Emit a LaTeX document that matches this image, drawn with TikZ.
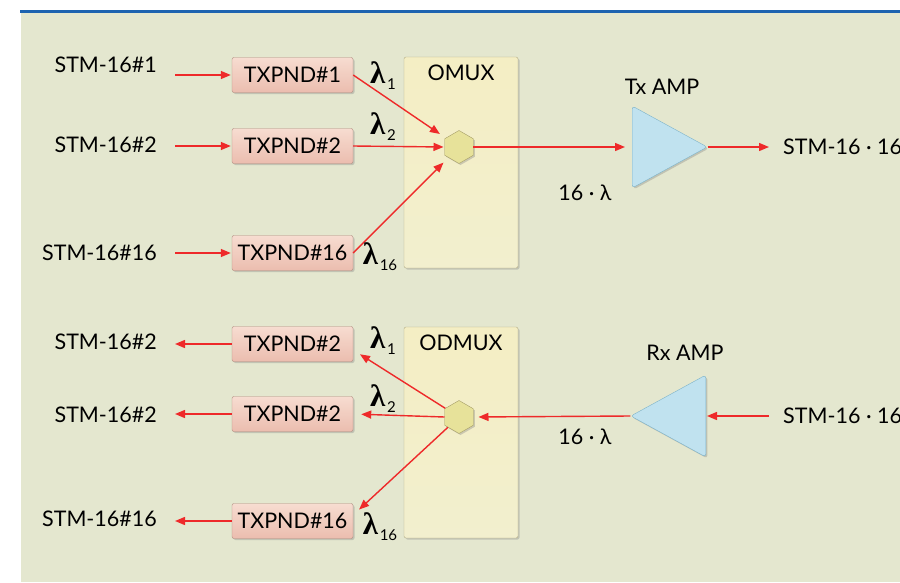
\documentclass[tikz,border=0pt]{standalone}
\usepackage{fontspec}
\setmainfont{Lato}
\newfontfamily\lamfont{Liberation Serif}
\usetikzlibrary{shapes.geometric, arrows.meta, positioning, shadows, calc}

\definecolor{bgcol}{HTML}{E4E7CF}
\definecolor{topblue}{HTML}{1D63B0}
\definecolor{sigred}{HTML}{EE2A2A}
\definecolor{pinktop}{HTML}{F7DCD0}
\definecolor{pinkbot}{HTML}{EBBDAF}
\definecolor{pinkedge}{HTML}{B08A7E}
\definecolor{muxtop}{HTML}{F4EEC4}
\definecolor{muxbot}{HTML}{F2EFCE}
\definecolor{muxedge}{HTML}{B3AC86}
\definecolor{hexfill}{HTML}{E7E29A}
\definecolor{hexedge}{HTML}{A59D66}
\definecolor{ampfill}{HTML}{C0E2EF}
\definecolor{ampedge}{HTML}{7DB3C9}

\newcommand{\lam}[1]{{\lamfont\bfseries\fontsize{31}{31}\selectfont λ}\,\raisebox{-6pt}{\fontsize{15}{15}\selectfont #1}}

\tikzset{
  txt/.style={font=\fontsize{21.5}{24}\selectfont, inner sep=0pt},
  shade/.style={drop shadow={shadow xshift=1.5pt, shadow yshift=-1.5pt, opacity=0.35}},
  txbox/.style={txt, draw=pinkedge, rounded corners=2pt, top color=pinktop, bottom color=pinkbot,
    minimum width=121pt, minimum height=35pt, shade},
  muxbox/.style={draw=muxedge, rounded corners=2pt, top color=muxtop, bottom color=muxbot,
    minimum width=114pt, minimum height=211pt, shade},
  hexnode/.style={regular polygon, regular polygon sides=6, shape border rotate=30,
    draw=hexedge, fill=hexfill, minimum size=33pt, inner sep=0pt, shade},
  amp/.style={isosceles triangle, isosceles triangle stretches, draw=ampedge, fill=ampfill,
    rounded corners=3pt, minimum width=82pt, minimum height=75pt, inner sep=0pt, shade},
  sig/.style={draw=sigred, line width=1.4pt, -{Triangle[length=10pt,width=8pt]}, sigred},
}

\begin{document}
\begin{tikzpicture}[x=1pt, y=-1pt]

\useasboundingbox (0,0) rectangle (900,582);

% Background and top rule
\fill[bgcol] (21,13) rectangle (900,582);
\fill[topblue] (20,10) rectangle (900,13);

% Multiplexer boxes
\node[muxbox] (omux) at (461,162.5) {};
\node[muxbox] (odmux) at (461,432.5) {};
\node[txt, below=8pt of omux.north] (omuxlbl) {OMUX};
\node[txt, below=8pt of odmux.north] (odmuxlbl) {ODMUX};
\node[hexnode] (hex) at (459,147) {};
\node[hexnode] (hexd) at (459,417) {};

% Transmit side
\foreach \n/\y/\ty in {1/75/65, 2/146/145, 16/253/253} {
    \node[txbox] (tx\n) at (292.5,\y) {TXPND\#\n};
    \node[txt, anchor=east] (stm\n) at (157,\ty) {STM-16\#\n};
    \draw[sig, shorten <=18pt, shorten >=1pt] (tx\n.west -| stm\n.east) -- (tx\n.west);
}

\draw[sig, shorten >=7pt] (tx1.east) -- (hex);
\draw[sig, shorten >=1pt] (tx2.east) -- (hex.west);
\draw[sig, shorten >=7pt] (tx16.east) -- (hex);

\node (lam1) at (383,76) {\lam{1}};
\node (lam2) at (383,127) {\lam{2}};
\node (lam16) at (380,257) {\lam{16}};

\node[amp, anchor=lower side] (txamp) at (632,147) {};
\node[txt] (txamplbl) at (662,87) {Tx AMP};
\node[txt] (txlam) at (585,193) {16 · λ};
\node[txt, anchor=west] (txout) at (783,147) {STM-16 · 16};
\draw[sig, shorten >=7pt] (hex.east) -- (txamp.lower side);
\draw[sig, shorten >=14pt] (txamp.apex) -- (txout.west);

% Receive side
\foreach \n/\k/\y/\ty in {1/2/344/342, 2/2/414/415, 16/16/521/519} {
    \node[txbox] (rx\n) at (292.5,\y) {TXPND\#\k};
    \node[txt, anchor=east] (rstm\n) at (157,\ty) {STM-16\#\k};
    \draw[sig, shorten >=18pt] (rx\n.west) -- (rx\n.west -| rstm\n.east);
}

\draw[sig, shorten >=8pt] (hexd) -- ([yshift=-6pt]rx1.east);
\draw[sig, shorten >=8pt] (hexd.west) -- (rx2.east);
\draw[sig, shorten >=8pt] (hexd) -- ([yshift=6pt]rx16.east);

\node (rlam1) at (383,341) {\lam{1}};
\node (rlam2) at (383,399) {\lam{2}};
\node (rlam16) at (380,527) {\lam{16}};

\node[amp, shape border rotate=180, anchor=lower side] (rxamp) at (706,416) {};
\node[txt] (rxamplbl) at (685,353) {Rx AMP};
\node[txt] (rxlam) at (585,437) {16 · λ};
\node[txt, anchor=west] (rxin) at (783,416) {STM-16 · 16};
\draw[sig, shorten <=14pt, shorten >=1pt] (rxin.west) -- (rxamp.lower side);
\draw[sig, shorten >=5pt] (rxamp.apex) -- (hexd.east);

\end{tikzpicture}
\end{document}
